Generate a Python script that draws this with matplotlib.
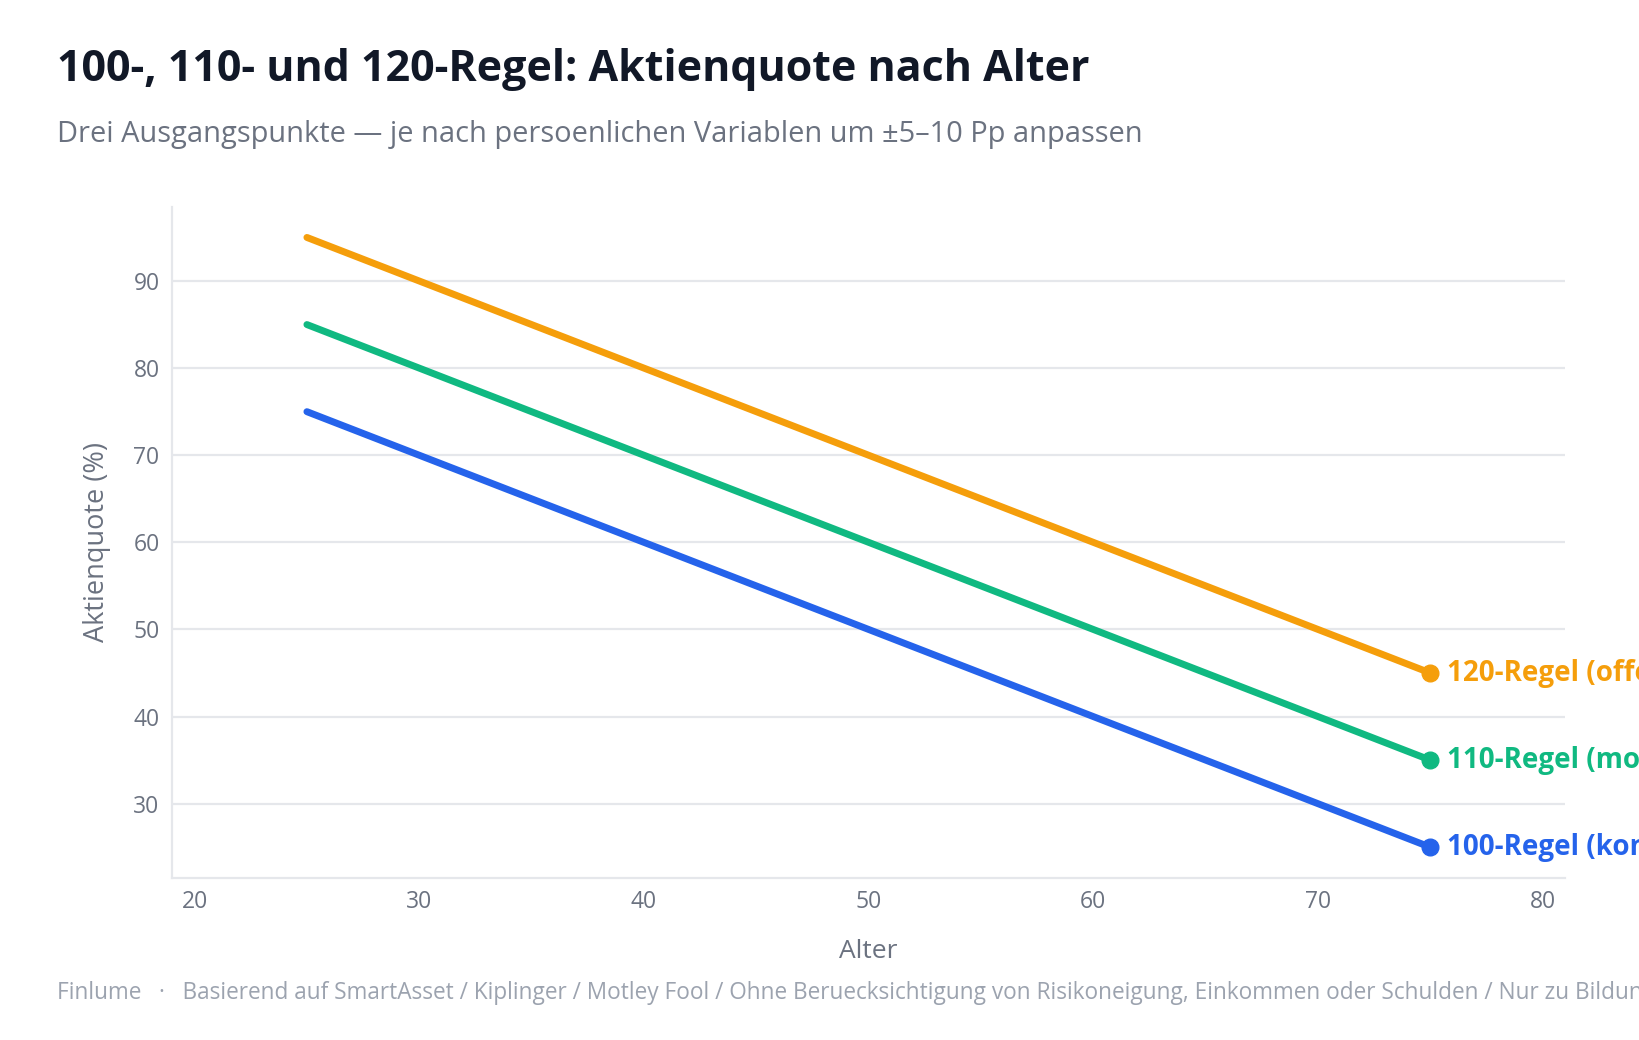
import matplotlib.pyplot as plt

# Daten: Aktienquote je Alter fuer die drei Faustregeln
alter = [25, 30, 35, 40, 45, 50, 55, 60, 65, 70, 75]
regel_100 = [75, 70, 65, 60, 55, 50, 45, 40, 35, 30, 25]
regel_110 = [85, 80, 75, 70, 65, 60, 55, 50, 45, 40, 35]
regel_120 = [95, 90, 85, 80, 75, 70, 65, 60, 55, 50, 45]

namen = ["120-Regel (offensiv)", "110-Regel (moderat)", "100-Regel (konservativ)"]
farben = ["#f59e0b", "#10b981", "#2563eb"]
x_ticks = [20, 30, 40, 50, 60, 70, 80]
y_ticks = [30, 40, 50, 60, 70, 80, 90]

plt.rcParams["font.family"] = ["Open Sans", "DejaVu Sans"]

fig = plt.figure(figsize=(16.39, 10.40), dpi=100)
ax = fig.add_axes([0.105, 0.156, 0.850, 0.645])

for werte, name, farbe in zip([regel_120, regel_110, regel_100], namen, farben):
    ax.plot(alter, werte, color=farbe, linewidth=5, solid_capstyle="round", zorder=3)
    ax.plot(alter[-1], werte[-1], "o", color=farbe, markersize=12, zorder=4)
    ax.annotate(name, (alter[-1], werte[-1]), xytext=(12, 0), textcoords="offset points",
                va="center", ha="left", fontsize=20, fontweight="bold", color=farbe,
                annotation_clip=False)

ax.set_xlim(19, 81)
ax.set_ylim(21.5, 98.5)
ax.set_xticks(x_ticks)
ax.set_yticks(y_ticks)
ax.tick_params(length=0, labelsize=16.5, labelcolor="#6b7280", pad=9)

# Nur horizontale Gitterlinien
ax.grid(axis="y", color="#e5e7eb", linewidth=1.6)
ax.set_axisbelow(True)
for seite in ["top", "right"]:
    ax.spines[seite].set_visible(False)
for seite in ["left", "bottom"]:
    ax.spines[seite].set_color("#e5e7eb")
    ax.spines[seite].set_linewidth(1.6)

ax.set_xlabel("Alter", fontsize=19, color="#6b7280", labelpad=18)
ax.set_ylabel("Aktienquote (%)", fontsize=19.5, color="#6b7280", labelpad=16)

# Titel, Untertitel und Fusszeile
fig.text(0.035, 0.922, "100-, 110- und 120-Regel: Aktienquote nach Alter",
         fontsize=31, fontweight="bold", color="#111827")
fig.text(0.035, 0.863, "Drei Ausgangspunkte — je nach persoenlichen Variablen um ±5–10 Pp anpassen",
         fontsize=20.9, color="#6b7280")
fig.text(0.035, 0.039,
         "Finlume   ·   Basierend auf SmartAsset / Kiplinger / Motley Fool / Ohne Beruecksichtigung "
         "von Risikoneigung, Einkommen oder Schulden / Nur zu Bildungszwecken",
         fontsize=16.3, color="#9ca3af")

fig.savefig("out.png", dpi=100)
